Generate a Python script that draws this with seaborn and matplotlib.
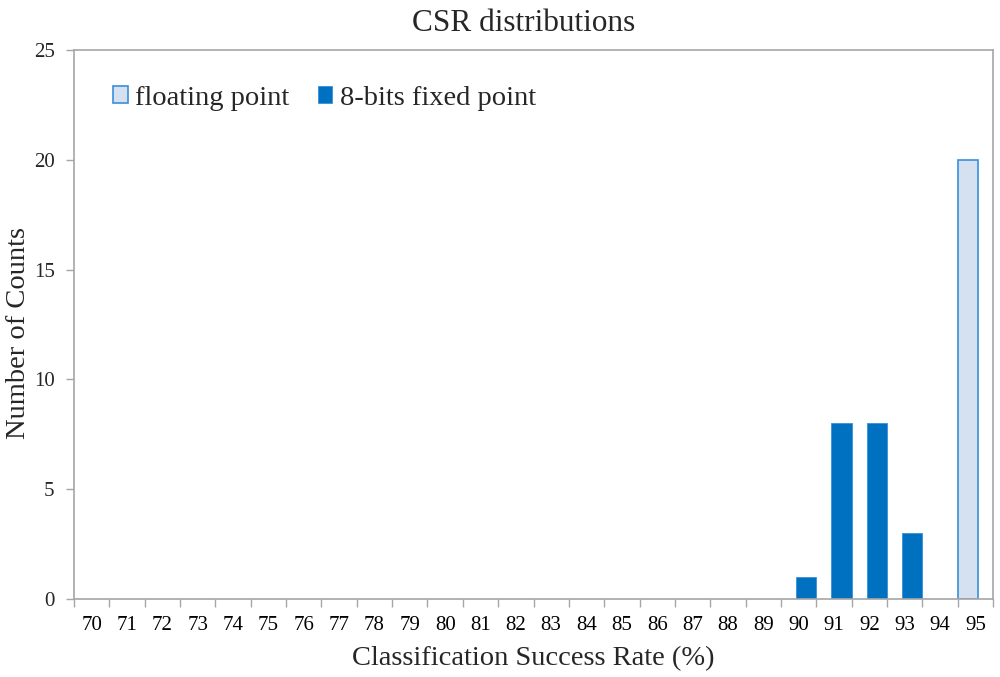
import matplotlib
matplotlib.use("Agg")
import matplotlib.pyplot as plt
import seaborn as sns
import pandas as pd
from matplotlib.ticker import FixedLocator

categories = [str(v) for v in range(70, 96)]
series_names = ["floating point", "8-bits fixed point"]
floating_cats = ["95"]
floating_counts = [20]
fixed_cats = ["90", "91", "92", "93"]
fixed_counts = [1, 8, 8, 3]
y_ticks = [0, 5, 10, 15, 20, 25]

df = pd.DataFrame({
    "rate": floating_cats + fixed_cats,
    "count": floating_counts + fixed_counts,
    "series": [series_names[0]] * len(floating_cats) + [series_names[1]] * len(fixed_cats),
})

sns.set_style("white")
plt.rcParams["font.family"] = ["Liberation Serif", "DejaVu Serif"]

fig = plt.figure(figsize=(10, 6.77), dpi=100)
ax = fig.add_axes([0.074, 0.1152, 0.919, 0.8109])

fill_colors = {series_names[0]: "#D5E1F1", series_names[1]: "#0070C0"}
edge_colors = {series_names[0]: "#3A8FDC", series_names[1]: "#3A8FDC"}

sns.barplot(data=df, x="rate", y="count", hue="series", order=categories,
            hue_order=series_names, palette=fill_colors, width=1.0,
            dodge=True, ax=ax, legend=True, saturation=1)

bw = 0.57
for i, cont in enumerate(ax.containers):
    name = series_names[i]
    for p in cont.patches:
        x0, w = p.get_x(), p.get_width()
        if i == 1:
            p.set_x(x0 + w - bw)
        p.set_width(bw)
        p.set_edgecolor(edge_colors[name])
        p.set_linewidth(1.2 if i == 0 else 0.6)

ax.set_xlim(-0.5, len(categories) - 0.5)
ax.set_ylim(0, 25)
ax.set_yticks(y_ticks)
ax.set_xticks(range(len(categories)))
ax.set_xticklabels(categories)
ax.xaxis.set_minor_locator(FixedLocator([i - 0.5 for i in range(len(categories) + 1)]))
ax.tick_params(axis="x", which="major", length=0, pad=12, labelsize=15, colors="black")
ax.tick_params(axis="x", which="minor", length=6, width=1, color="#A6A6A6", direction="out", bottom=True)
ax.tick_params(axis="y", which="major", length=6, width=1, color="#A6A6A6", direction="out",
               left=True, labelsize=15, pad=8)

for s in ax.spines.values():
    s.set_visible(True)
    s.set_color("#A6A6A6")
    s.set_linewidth(1.2)

ax.set_title("CSR distributions", fontsize=22.5, pad=14, x=0.489)
ax.set_xlabel("Classification Success Rate (%)", fontsize=20.5, labelpad=8)
ax.set_ylabel("Number of Counts", fontsize=20.5)
ax.yaxis.set_label_coords(-0.047, 0.4845)

handles, labels = ax.get_legend_handles_labels()
for h, name in zip(handles, series_names):
    h.set_edgecolor(edge_colors[name])
    h.set_linewidth(1.2 if name == series_names[0] else 0.6)
ax.legend(handles, labels, loc="center left", bbox_to_anchor=(0.0424, 0.9126), ncol=2,
          frameon=False, fontsize=20.5, handlelength=0.52, handleheight=0.52,
          handletextpad=0.25, columnspacing=1.0, borderaxespad=0, borderpad=0)

fig.savefig("out.png", dpi=100)
